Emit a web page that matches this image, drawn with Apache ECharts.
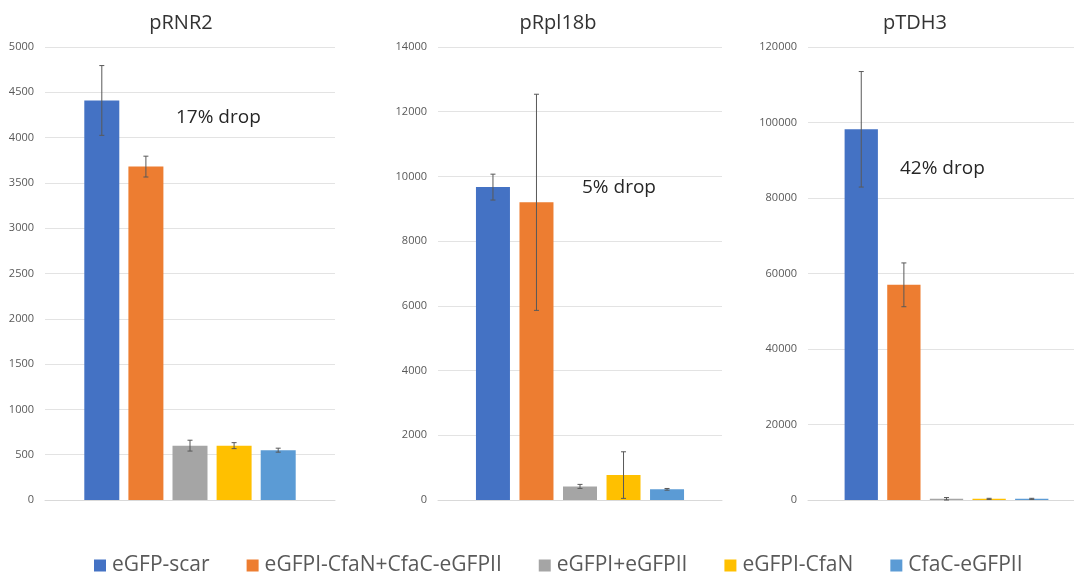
<!DOCTYPE html>
<html>
<head>
<meta charset="utf-8">
<script src="https://cdn.jsdelivr.net/npm/echarts@6/dist/echarts.min.js"></script>
<style>html,body{margin:0;padding:0;background:#fff;overflow:hidden}#c{width:1090px;height:575px}</style>
</head>
<body>
<div id="c"></div>
<script>
const seriesNames = ['eGFP-scar', 'eGFPI-CfaN+CfaC-eGFPII', 'eGFPI+eGFPII', 'eGFPI-CfaN', 'CfaC-eGFPII'];
const colors = ['#4472C4', '#ED7D31', '#A5A5A5', '#FFC000', '#5B9BD5'];
const panelTitles = ['pRNR2', 'pRpl18b', 'pTDH3'];
const notes = ['17% drop', '5% drop', '42% drop'];

const pRNR2Values = [4410, 3680, 600, 600, 550];
const pRNR2Errors = [385, 115, 60, 33, 22];
const pRpl18bValues = [9670, 9200, 420, 770, 330];
const pRpl18bErrors = [400, 3340, 62, 720, 26];
const pTDH3Values = [98200, 57000, 300, 300, 300];
const pTDH3Errors = [15300, 5800, 350, 150, 150];

const yMax = [5000, 14000, 120000];
const yInterval = [500, 2000, 20000];

const values = [pRNR2Values, pRpl18bValues, pTDH3Values];
const errors = [pRNR2Errors, pRpl18bErrors, pTDH3Errors];

// layout
const grids = [
  {left: 45, top: 47, width: 290, height: 453},
  {left: 438, top: 47, width: 284, height: 453},
  {left: 808, top: 47, width: 277, height: 453}
];
const barWidths = [35, 34, 33.3];
const barGapPct = [26, 28, 28];
const titlePos = [[176, 8], [553, 8], [910, 8]];
const notePos = [[176, 108], [582, 178], [900, 159]];
const FONT = 'Open Sans';

const series = [];
for (let p = 0; p < 3; p++) {
  for (let j = 0; j < 5; j++) {
    series.push({
      type: 'bar', name: seriesNames[j], xAxisIndex: p, yAxisIndex: p,
      data: [values[p][j]], barWidth: barWidths[p], barGap: barGapPct[p] + '%',
      itemStyle: {color: colors[j]}, silent: true
    });
  }
  const bw = barWidths[p], pitch = bw * (1 + barGapPct[p] / 100);
  series.push({
    type: 'custom', xAxisIndex: p, yAxisIndex: p, silent: true, z: 10,
    data: values[p].map((v, j) => [0, v, errors[p][j], j]),
    encode: {x: 0, y: 1},
    renderItem: function (params, api) {
      const v = api.value(1), e = api.value(2), j = api.value(3);
      const c = api.coord([0, v]);
      const x = c[0] + (j - 2) * pitch;
      const yt = api.coord([0, v + e])[1];
      const yb = api.coord([0, Math.max(0, v - e)])[1];
      const st = {stroke: '#595959', lineWidth: 1};
      return {type: 'group', children: [
        {type: 'line', shape: {x1: x, y1: yt, x2: x, y2: yb}, style: st},
        {type: 'line', shape: {x1: x - 2.5, y1: yt, x2: x + 2.5, y2: yt}, style: st},
        {type: 'line', shape: {x1: x - 2.5, y1: yb, x2: x + 2.5, y2: yb}, style: st}
      ]};
    }
  });
}

const option = {
  animation: false,
  backgroundColor: '#ffffff',
  textStyle: {fontFamily: FONT},
  title: panelTitles.map((t, i) => ({
    text: t, left: titlePos[i][0], top: titlePos[i][1], textAlign: 'center',
    textStyle: {fontFamily: FONT, fontSize: 20, fontWeight: 'normal', color: '#333333'}
  })),
  legend: {
    data: seriesNames, left: 89, top: 550, itemWidth: 12, itemHeight: 12, itemGap: 37,
    icon: 'rect', selectedMode: false,
    textStyle: {fontFamily: FONT, fontSize: 21, color: '#595959', padding: [0, 0, 0, 1]}
  },
  grid: grids,
  xAxis: grids.map((g, i) => ({
    type: 'category', gridIndex: i, data: [''],
    axisLine: {lineStyle: {color: '#d9d9d9', width: 1}},
    axisTick: {show: false}, axisLabel: {show: false}
  })),
  yAxis: grids.map((g, i) => ({
    type: 'value', gridIndex: i, min: 0, max: yMax[i], interval: yInterval[i],
    axisLine: {show: false}, axisTick: {show: false},
    axisLabel: {fontFamily: FONT, fontSize: 11, color: '#595959', margin: 11,
      formatter: function (v) { return String(v); }},
    splitLine: {lineStyle: {color: '#e3e3e3', width: 1}}
  })),
  graphic: notes.map((t, i) => ({
    type: 'text', left: notePos[i][0], top: notePos[i][1],
    style: {text: t, font: '19px "' + FONT + '"', fill: '#262626'}
  })),
  series: series
};

const chart = echarts.init(document.getElementById('c'), null, {renderer: 'canvas'});
chart.setOption(option);
</script>
</body>
</html>
